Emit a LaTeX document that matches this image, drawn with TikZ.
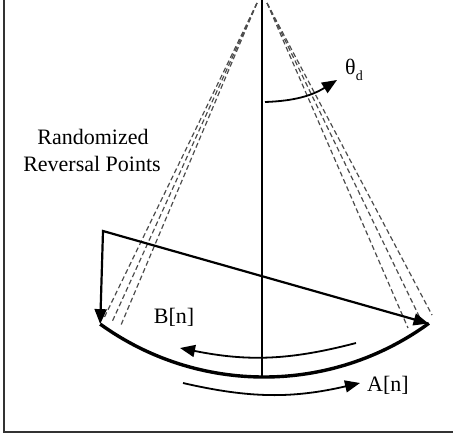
\documentclass[tikz,border=0pt]{standalone}
\usepackage{fontspec}
\setmainfont{Liberation Serif}
\usetikzlibrary{arrows.meta}
\begin{document}
\begin{tikzpicture}[
  x=0.5pt, y=0.5pt,
  pendarc/.style = {line width=1.7pt},
  pendaxis/.style = {line width=1.1pt},
  pendray/.style = {line width=0.6pt, draw=black!70, dash pattern=on 2.5pt off 1.5pt},
  pendmove/.style = {line width=0.9pt, -{Triangle[length=7.5pt, width=6pt]}},
  pendlbl/.style = {font=\fontsize{11}{13}\selectfont}
]
  \useasboundingbox (0,0) rectangle (453,436);
  % frame
  \draw[line width=0.75pt, black!80] (4,436) -- (4,4) -- (453,4);
  % pivot and swing
  \coordinate (apex) at (262,436);
  \coordinate (vbot) at (262,59);
  \coordinate (arcL) at (100.2,111.9);
  \coordinate (arcR) at (428.6,112.5);
  \coordinate (corner) at (103,205);
  \draw[pendaxis] (apex) -- (vbot);
  \draw[pendarc] (arcL) arc[start angle=234.2, end angle=306.1, radius=280];
  % rays to reversal points
  \coordinate (apexL) at (257,433);
  \coordinate (apexR) at (267,433);
  \coordinate (rl1) at (104,118);
  \coordinate (rl2) at (112,114);
  \coordinate (rl3) at (121,111);
  \coordinate (rr1) at (408,108);
  \coordinate (rr2) at (420,118);
  \coordinate (rr3) at (432,121);
  \foreach \e in {rl1,rl2,rl3} \draw[pendray] (apexL) -- (\e);
  \foreach \e in {rr1,rr2,rr3} \draw[pendray] (apexR) -- (\e);
  % reversal arrows
  \draw[pendaxis, {Triangle[length=7.5pt, width=6pt]}-{Triangle[length=7.5pt, width=6pt]}]
    (arcL) -- (corner) -- (arcR);
  % angle
  \coordinate (thS) at (265,334);
  \coordinate (thE) at (337,356);
  \draw[pendmove] (thS) to[bend right=15] (thE);
  \node[pendlbl] (theta) at (354,366) {θ\raisebox{-0.6ex}{\fontsize{7}{8}\selectfont d}};
  % motion arrows
  \coordinate (bS) at (356,93);
  \coordinate (bE) at (180,88);
  \coordinate (aS) at (183,53);
  \coordinate (aE) at (360,53);
  \draw[pendmove] (bS) to[bend left=13] (bE);
  \draw[pendmove] (aS) to[bend right=13] (aE);
  \node[pendlbl] (bn) at (174,119) {B[n]};
  \node[pendlbl] (an) at (388,51) {A[n]};
  % labels
  \node[pendlbl] (rand) at (93,299) {Randomized};
  \node[pendlbl] (rev) at (92,272) {Reversal Points};
\end{tikzpicture}
\end{document}
